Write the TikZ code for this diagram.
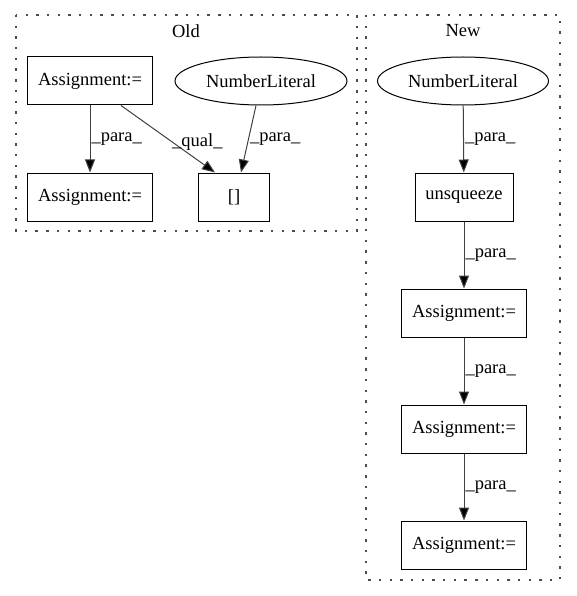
\documentclass[tikz,border=0pt]{standalone}
\usepackage{fontspec}
\setmainfont{Liberation Serif}
\usetikzlibrary{arrows.meta,shapes.geometric}
\begin{document}
\begin{tikzpicture}[x=1pt,y=-1pt,font=\fontsize{18.5}{21}\selectfont,
  stmt/.style={shape=rectangle,draw=black,line width=1pt,minimum height=48pt,inner xsep=6pt},
  lit/.style={shape=ellipse,draw=black,line width=1pt,minimum width=172pt,minimum height=48pt,inner sep=0pt},
  cluster/.style={draw=black!70,dash pattern=on 2.4pt off 8.3pt,line width=1.3pt},
  edge/.style={draw=black!75,line width=1pt,-{Triangle[length=13pt,width=10pt,fill=black]}},
  elab/.style={inner sep=1pt}]
\useasboundingbox (0,0) rectangle (576,596);

\draw[cluster] (16,15) rectangle (357,231);
\node (oldT) at (186,31) {Old};
\draw[cluster] (366,15) rectangle (560,580);
\node (newT) at (463,31) {New};

% Old
\node[stmt,minimum width=125pt] (A1) at (90,81) {Assignment:=};
\node[lit] (N1) at (261,81) {NumberLiteral};
\node[stmt,minimum width=125pt] (A2) at (90,197) {Assignment:=};
\node[stmt,minimum width=71pt] (I1) at (234,197) {[]};
\draw[edge] (A1) -- (A2) node[elab,midway,right] {\_para\_};
\draw[edge] (A1.south east) ++(-32,0) coordinate (qs) -- ([xshift=-19pt]I1.north) node[elab,pos=0.55,right=-2pt] {\_qual\_};
\draw[edge] ([xshift=-5pt]N1.south) -- ([xshift=7pt]I1.north) node[elab,midway,right] {\_para\_};

% New
\node[lit,minimum width=171pt] (N2) at (463,81) {NumberLiteral};
\node[stmt,minimum width=98pt] (U) at (464,197) {unsqueeze};
\node[stmt,minimum width=125pt] (B1) at (464,313) {Assignment:=};
\node[stmt,minimum width=125pt] (B2) at (464,429) {Assignment:=};
\node[stmt,minimum width=125pt] (B3) at (464,545) {Assignment:=};
\draw[edge] (N2) -- (U) node[elab,midway,right] {\_para\_};
\draw[edge] (U) -- (B1) node[elab,midway,right] {\_para\_};
\draw[edge] (B1) -- (B2) node[elab,midway,right] {\_para\_};
\draw[edge] (B2) -- (B3) node[elab,midway,right] {\_para\_};
\end{tikzpicture}
\end{document}
